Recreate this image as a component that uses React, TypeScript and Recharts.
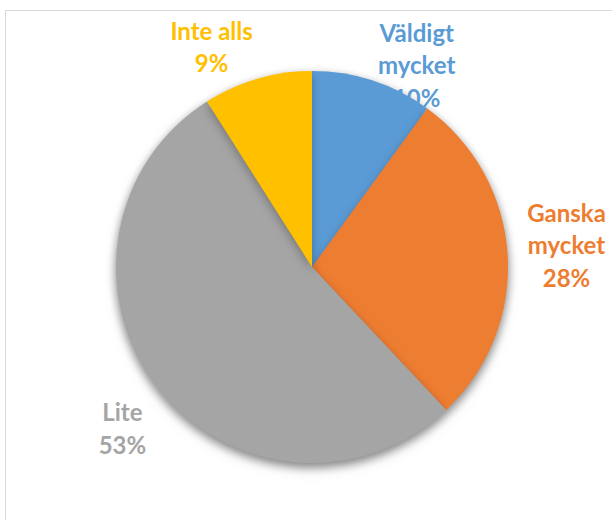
import React from 'react';
import { PieChart, Pie, Cell } from 'recharts';

const categories = ['Väldigt mycket', 'Ganska mycket', 'Lite', 'Inte alls'];
const shares = [10, 28, 53, 9];
const colors = ['#5B9BD5', '#ED7D31', '#A5A5A5', '#FFC000'];
const labelLines = [['Väldigt', 'mycket'], ['Ganska', 'mycket'], ['Lite'], ['Inte alls']];

const data = categories.map((name, i) => ({ name, value: shares[i] }));

// excel "best fit" pushes some labels off their mid angle
const nudge = [
  { dx: 29, dy: 31 },
  { dx: 10, dy: -7 },
  { dx: 4, dy: 11 },
  { dx: -32, dy: 15 },
];

const RAD = Math.PI / 180;
const LINE_H = 32.5;

function renderLabel(props: any) {
  const { cx, cy, midAngle, outerRadius, index, percent } = props;
  const r = outerRadius + 49;
  const x = cx + r * Math.cos(-midAngle * RAD) + nudge[index].dx;
  const y = cy + r * Math.sin(-midAngle * RAD) + nudge[index].dy;
  const lines = [...labelLines[index], `${Math.round(percent * 100)}%`];
  const top = y - ((lines.length - 1) * LINE_H) / 2;
  return (
    <g key={`lbl-${index}`}>
      {lines.map((t, j) => (
        <text
          key={j}
          x={x}
          y={top + j * LINE_H}
          textAnchor="middle"
          dominantBaseline="central"
          fill={colors[index]}
          fontFamily="Lato, 'Open Sans', sans-serif"
          fontWeight={700}
          fontSize={24}
        >
          {t}
        </text>
      ))}
    </g>
  );
}

export default function App() {
  return (
    <div style={{ position: 'fixed', left: 0, top: 0, width: 612, height: 520, overflow: 'hidden', background: '#fff' }}>
      <style>{`.main-pie { filter: drop-shadow(0px 4px 5px rgba(0,0,0,0.28)); }`}</style>
      <div style={{ position: 'absolute', left: 5, top: 10, width: 700, height: 600, border: '1.5px solid #d9d9d9' }} />
      <div style={{ position: 'absolute', left: 0, top: 0 }}>
        <PieChart width={612} height={520} margin={{ top: 0, right: 0, bottom: 0, left: 0 }}>
          <Pie
            data={data}
            dataKey="value"
            nameKey="name"
            cx={312}
            cy={267}
            outerRadius={196}
            startAngle={90}
            endAngle={-270}
            fill="none"
            stroke="none"
            label={renderLabel}
            labelLine={false}
            isAnimationActive={false}
          >
            {data.map((d, i) => (
              <Cell key={d.name} fill="transparent" stroke="none" />
            ))}
          </Pie>
          <Pie
            className="main-pie"
            data={data}
            dataKey="value"
            nameKey="name"
            cx={312}
            cy={267}
            outerRadius={196}
            startAngle={90}
            endAngle={-270}
            stroke="none"
            isAnimationActive={false}
          >
            {data.map((d, i) => (
              <Cell key={d.name} fill={colors[i]} stroke="none" />
            ))}
          </Pie>
        </PieChart>
      </div>
    </div>
  );
}
